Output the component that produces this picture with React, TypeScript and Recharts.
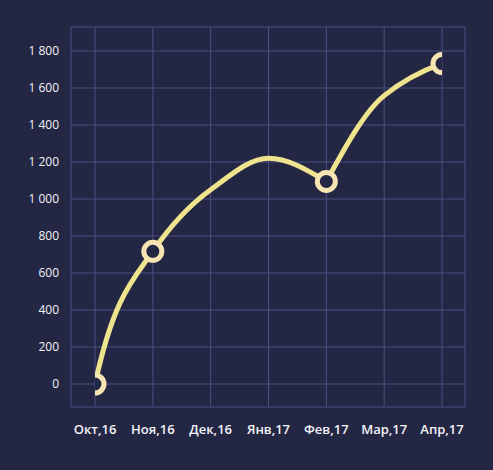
import { LineChart, Line, XAxis, YAxis, CartesianGrid } from "recharts";

const MONTHS = ["Окт,16", "Ноя,16", "Дек,16", "Янв,17", "Фев,17", "Мар,17", "Апр,17"];
const MONTH_VALUES = [0, 717, 1050, 1220, 1095, 1559, 1732];
// the line keeps going a little past the last month
const TAIL_POSITION = 6.5;
const TAIL_VALUE = 1775;
const MARKED_MONTHS = ["Окт,16", "Ноя,16", "Фев,17", "Апр,17"];
const Y_TICKS = [0, 200, 400, 600, 800, 1000, 1200, 1400, 1600, 1800];

const BG = "#242744";
const GRID = "#4b5182";
const LINE = "#efe48e";
const MARKER = "#f6e4b2";
const TEXT = "#f2f2f6";
const FONT = "'Open Sans', 'Noto Sans', sans-serif";

const data = [
  ...MONTHS.map((m, i) => ({ x: i, label: m, value: MONTH_VALUES[i] })),
  { x: TAIL_POSITION, label: "", value: TAIL_VALUE },
];

function formatThousands(v: number) {
  return String(v).replace(/\B(?=(\d{3})+(?!\d))/g, " ");
}

// hermite spline: pchip tangents, flat at peaks, a sharp turn at dips,
// and steep tangents at both ends (like the hand-drawn curve)
function smoothCurve(context: any) {
  let xs: number[] = [];
  let ys: number[] = [];
  return {
    areaStart() {},
    areaEnd() {},
    lineStart() {
      xs = [];
      ys = [];
    },
    point(x: number, y: number) {
      xs.push(+x);
      ys.push(+y);
    },
    lineEnd() {
      const n = xs.length;
      if (!n) return;
      context.moveTo(xs[0], ys[0]);
      if (n < 3) {
        if (n === 2) context.lineTo(xs[1], ys[1]);
        return;
      }
      const h: number[] = [];
      const s: number[] = [];
      for (let i = 0; i < n - 1; i++) {
        h[i] = xs[i + 1] - xs[i];
        s[i] = (ys[i + 1] - ys[i]) / h[i];
      }
      const m: number[] = [];
      for (let i = 1; i < n - 1; i++) {
        if (s[i - 1] * s[i] <= 0) {
          m[i] = 0;
        } else {
          const w1 = 2 * h[i] + h[i - 1];
          const w2 = h[i] + 2 * h[i - 1];
          m[i] = (w1 + w2) / (w1 / s[i - 1] + w2 / s[i]);
        }
      }
      m[0] = 2 * s[0];
      m[n - 1] = 2 * s[n - 2];
      const left = m.slice();
      const right = m.slice();
      // screen y grows downward, so a dip in value is a local max of y
      for (let i = 1; i < n - 1; i++) {
        if (s[i - 1] > 0 && s[i] < 0) {
          left[i] = (3 * s[i - 1] - m[i - 1]) / 2;
          right[i] = (3 * s[i] - m[i + 1]) / 2;
        }
      }
      for (let i = 0; i < n - 1; i++) {
        const dx = h[i] / 3;
        context.bezierCurveTo(
          xs[i] + dx,
          ys[i] + dx * right[i],
          xs[i + 1] - dx,
          ys[i + 1] - dx * left[i + 1],
          xs[i + 1],
          ys[i + 1]
        );
      }
    },
  };
}

function MarkerDot(props: any) {
  const { cx, cy, index, payload } = props;
  if (!MARKED_MONTHS.includes(payload.label)) return <g key={`d-${index}`} />;
  return (
    <circle
      key={`d-${index}`}
      cx={cx}
      cy={cy}
      r={9}
      fill={BG}
      stroke={MARKER}
      strokeWidth={5}
    />
  );
}

export default function App() {
  return (
    <div style={{ width: 493, height: 470, background: BG }}>
      <style>{"body{margin:0}"}</style>
      <LineChart
        width={493}
        height={470}
        data={data}
        margin={{ top: 27, right: 28, left: 0, bottom: 23 }}
      >
        <CartesianGrid stroke={GRID} strokeWidth={1} />
        <XAxis
          type="number"
          dataKey="x"
          domain={[0, 6]}
          allowDataOverflow
          ticks={[0, 1, 2, 3, 4, 5, 6]}
          tickFormatter={(v: number) => MONTHS[v] ?? ""}
          padding={{ left: 24, right: 23 }}
          height={40}
          axisLine={false}
          tickLine={false}
          tickMargin={12}
          tick={{ fill: TEXT, fontSize: 13, fontWeight: 600, fontFamily: FONT }}
          interval={0}
        />
        <YAxis
          type="number"
          domain={[0, 1800]}
          ticks={Y_TICKS}
          tickFormatter={formatThousands}
          padding={{ top: 24, bottom: 23 }}
          width={71}
          axisLine={false}
          tickLine={false}
          tickMargin={6}
          tick={{ fill: TEXT, fontSize: 12, fontFamily: FONT }}
          interval={0}
        />
        <Line
          type={smoothCurve as any}
          dataKey="value"
          stroke={LINE}
          strokeWidth={5}
          strokeLinecap="round"
          dot={MarkerDot}
          activeDot={false}
          isAnimationActive={false}
        />
      </LineChart>
    </div>
  );
}
